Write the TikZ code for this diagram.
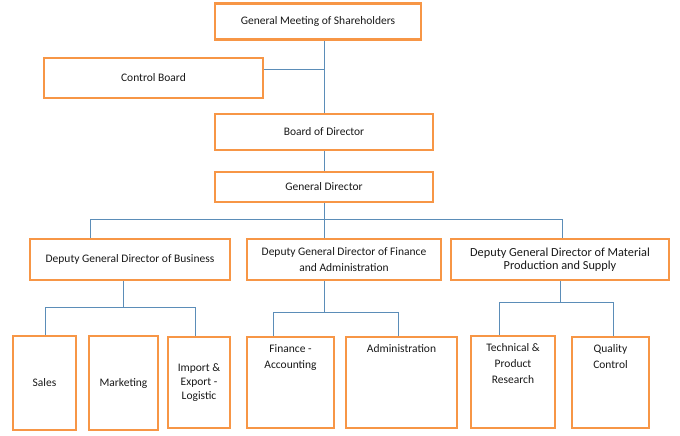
\documentclass[tikz,border=0pt]{standalone}
\usepackage{fontspec}
\setmainfont{Carlito}
\usetikzlibrary{positioning, backgrounds}
\definecolor{boxorange}{HTML}{F79646}
\definecolor{lineblue}{HTML}{5B8DB8}

\begin{document}
\begin{tikzpicture}[
  x=1pt, y=-1pt,
  unit/.style={
    rectangle,
    draw=boxorange,
    line width=2.4pt,
    fill=white,
    align=center,
    font=\fontsize{11.5}{16}\selectfont,
    text=black!90,
    inner sep=2pt
  },
  toptext/.style={
    anchor=north,
    yshift=-5pt,
    align=center,
    font=\fontsize{11.5}{16}\selectfont,
    text=black!90
  },
  link/.style={
    draw=lineblue,
    line width=0.9pt
  }
]
\useasboundingbox (0,0) rectangle (680,436);

% Top levels
\node[unit, minimum width=206pt, minimum height=36pt] (gms)  at (318,21.5) {General Meeting of Shareholders};
\node[unit, minimum width=219pt, minimum height=40pt] (ctrl) at (153.5,78) {Control Board};
\node[unit, minimum width=218pt, minimum height=36pt] (bod)  at (324,132)  {Board of Director};
\node[unit, minimum width=218pt, minimum height=30pt] (gd)   at (324,187)  {General Director};

% Deputies
\node[unit, minimum width=200pt, minimum height=41pt] (dgdbus) at (130,259.5) {Deputy General Director of Business};
\node[unit, minimum width=194pt, minimum height=41pt] (dgdfin) at (344,259.5) {Deputy General Director of Finance\\and Administration};
\node[unit, minimum width=218pt, minimum height=41pt, font=\fontsize{12.3}{13.5}\selectfont] (dgdmat) at (560,259.5) {Deputy General Director of Material\\Production and Supply};

% Departments
\node[unit, minimum width=63pt, minimum height=94pt] (sales) at (44.5,383) {Sales};
\node[unit, minimum width=69pt, minimum height=94pt] (mkt)   at (123.5,383) {Marketing};
\node[unit, minimum width=62pt, minimum height=91pt, font=\fontsize{11.5}{14}\selectfont] (imp) at (199,382.5) {Import \&\\Export -\\Logistic};
\node[unit, minimum width=87pt, minimum height=91pt, label={[toptext]north:{Finance -\\Accounting}}] (finacc) at (290.5,382.5) {};
\node[unit, minimum width=111pt, minimum height=91pt, label={[toptext]north:Administration}] (admin) at (401.5,382.5) {};
\node[unit, minimum width=84pt, minimum height=92pt, label={[toptext]north:{Technical \&\\Product\\Research}}] (tech) at (513,382) {};
\node[unit, minimum width=77pt, minimum height=91pt, label={[toptext]north:{Quality\\Control}}] (qual) at (610.5,382.5) {};

% Bus points
\coordinate (busL) at (90,219);
\coordinate (busR) at (562,219);
\coordinate (bizL) at (45,307);
\coordinate (bizR) at (195,307);
\coordinate (finL) at (273,312);
\coordinate (finR) at (398,312);
\coordinate (matL) at (499,302);
\coordinate (matR) at (613,302);

\begin{scope}[on background layer]
% Upper chain
\draw[link] (gms.south -| bod.north) -- (bod.north);
\draw[link] ([yshift=9pt]ctrl.east) -- ([yshift=9pt]ctrl.east -| bod.north);
\draw[link] (bod.south) -- (gd.north);

% Deputy bus
\draw[link] (gd.south) -- (gd.south |- busL);
\draw[link] (busL) -- (busR);
\draw[link] (busL) -- (busL |- dgdbus.north);
\draw[link] (gd.south |- busL) -- (gd.south |- dgdfin.north);
\draw[link] (busR) -- (busR |- dgdmat.north);

% Business
\draw[link] (dgdbus.south -| mkt.north) -- (mkt.north |- bizL);
\draw[link] (bizL) -- (bizR);
\draw[link] (bizL) -- (bizL |- sales.north);
\draw[link] (bizR) -- (bizR |- imp.north);

% Finance
\draw[link] (dgdfin.south -| gd.south) -- (gd.south |- finL);
\draw[link] (finL) -- (finR);
\draw[link] (finL) -- (finL |- finacc.north);
\draw[link] (finR) -- (finR |- admin.north);

% Material
\draw[link] (dgdmat.south) -- (dgdmat.south |- matL);
\draw[link] (matL) -- (matR);
\draw[link] (matL) -- (matL |- tech.north);
\draw[link] (matR) -- (matR |- qual.north);
\end{scope}

\end{tikzpicture}
\end{document}
